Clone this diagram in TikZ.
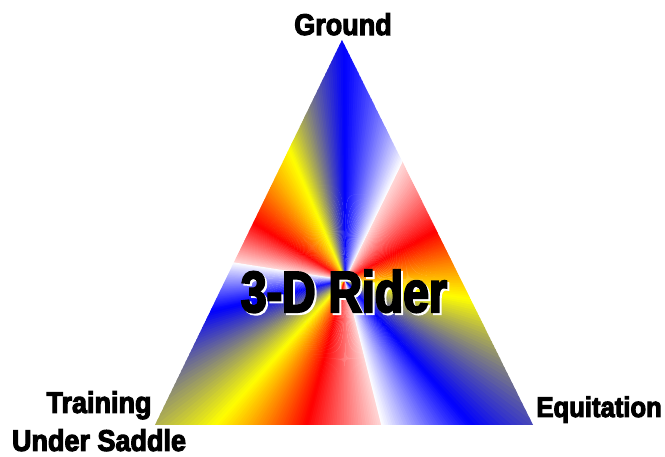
\documentclass[tikz,border=0pt]{standalone}
\usepackage{fontspec}
\usetikzlibrary{calc}
\newfontfamily\labelfont[BoldFeatures={FakeBold=3.5,FakeStretch=0.9}]{Liberation Sans}
\newfontfamily\titlefont[BoldFeatures={FakeBold=3.5,FakeStretch=0.8}]{Liberation Sans}
\definecolor{rayblue}{RGB}{0,0,255}
\definecolor{rayyellow}{RGB}{255,255,0}
\definecolor{rayred}{RGB}{255,0,0}
\colorlet{raypink}{rayred!15!white}

\begin{document}
\begin{tikzpicture}[x=1pt, y=1pt,
  corner/.style={font=\labelfont\bfseries\fontsize{30}{38}\selectfont, inner sep=0pt},
  headline/.style={font=\titlefont\bfseries\fontsize{58}{60}\selectfont, inner sep=0pt, anchor=base}]
  \useasboundingbox (0,0) rectangle (665,-457);
  \coordinate (apex) at (342,-40);
  \coordinate (left) at (155,-425);
  \coordinate (right) at (533,-425);
  \coordinate (hub) at (345,-280);
  % colour rays round the hub, cut to the triangle
  \begin{scope}
    \clip (apex) -- (left) -- (right) -- cycle;
    \foreach \a/\b/\ca/\cb in {-167/-132/rayblue/rayyellow, -132/-105/rayyellow/rayred,
        -105/-76/rayred/raypink, -76/-49/white/rayblue,
        -49/-9/rayblue/rayyellow, -9/28/rayyellow/rayred,
        28/64/rayred/raypink, 64/90/white/rayblue,
        90/113/rayblue/rayyellow, 113/148/rayyellow/rayred,
        148/171/rayred/raypink, 171/193/white/rayblue}{
      \foreach \i in {0,...,39}{
        \pgfmathsetmacro\ta{\a+(\b-(\a))*\i/40}
        \pgfmathsetmacro\tb{\a+(\b-(\a))*(\i+1)/40+0.3}
        \pgfmathtruncatemacro\p{100*(\i+0.5)/40}
        \fill[\cb!\p!\ca] (hub) -- ($(hub)+(\ta:600)$) -- ($(hub)+(\tb:600)$) -- cycle;
      }
    }
  \end{scope}
  % title with white shadow
  \node[headline, text=white] (shadow) at (346,-314) {3-D Rider};
  \node[headline, text=black] (title) at (344,-312) {3-D Rider};
  % corner labels
  \node[corner, anchor=base] (ground) at (343,-35) {Ground};
  \node[corner, anchor=north, align=center] (saddle) at (99,-391) {Training\\Under Saddle};
  \node[corner, font=\labelfont\bfseries\fontsize{28.5}{38}\selectfont, anchor=base east] (equit) at (662,-417) {Equitation};
\end{tikzpicture}
\end{document}
